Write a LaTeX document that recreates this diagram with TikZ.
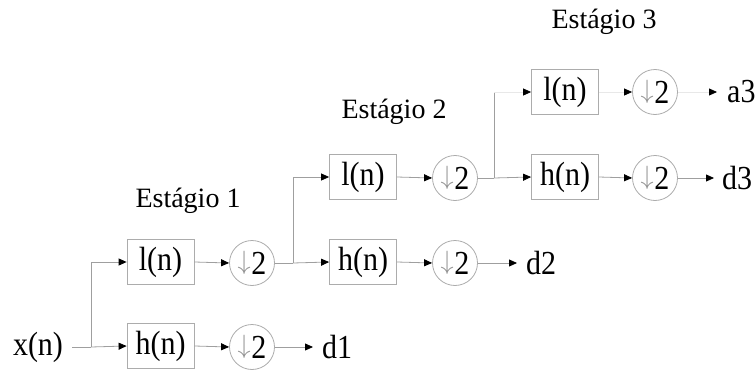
\documentclass[tikz,border=0pt]{standalone}
\usepackage{fontspec}
\setmainfont{Liberation Serif}
\usetikzlibrary{arrows.meta}
\newcommand\stx[1]{\scalebox{1}[1.12]{#1}}
\newcommand\dsym{\stx{{\color{gray!85}\raisebox{0.14em}{\scalebox{1.05}[0.95]{$\downarrow$}}}\kern0.02em 2}}
\begin{document}
\begin{tikzpicture}[x=1pt,y=-1pt,
  ttl/.style={font=\fontsize{28}{33}\selectfont, inner sep=0pt, anchor=base},
  txt/.style={font=\fontsize{30}{36}\selectfont, inner sep=0pt},
  box/.style={draw=gray!65, line width=0.8pt, minimum width=67pt, minimum height=45pt, inner sep=0pt, font=\fontsize{30}{36}\selectfont},
  dn/.style={circle, draw=gray!65, line width=0.8pt, minimum size=45pt, inner sep=0pt, font=\fontsize{30}{36}\selectfont},
  ln/.style={draw=gray!75, line width=0.8pt},
  lnf/.style={draw=gray!18, line width=0.8pt},
  arr/.style={ln, -{Triangle[length=8pt,width=7pt,color=black]}},
  arrf/.style={lnf, -{Triangle[length=8pt,width=7pt,color=black]}}]
\useasboundingbox (0,0) rectangle (756,372);
% stage titles
\node[ttl] (s1) at (188,207) {Estágio 1};
\node[ttl] (s2) at (394,118) {Estágio 2};
\node[ttl] (s3) at (604,28) {Estágio 3};
% input
\node[txt] (xn) at (38,347) {\stx{x(n)}};
\coordinate (j1) at (91,347);
% stage 1
\node[box] (l1) at (160.5,262) {\stx{l(n)}};
\node[box] (h1) at (160.5,346) {\stx{h(n)}};
\node[dn] (c1a) at (252,263) {\dsym};
\node[dn] (c1b) at (252,347) {\dsym};
\node[txt, anchor=west] (d1) at (322,347) {\stx{d1}};
\coordinate (j2) at (293,263);
% stage 2
\node[box] (l2) at (363,177) {\stx{l(n)}};
\node[box] (h2) at (363,262) {\stx{h(n)}};
\node[dn] (c2a) at (455,178) {\dsym};
\node[dn] (c2b) at (455,263) {\dsym};
\node[txt, anchor=west] (d2) at (526,263) {\stx{d2}};
\coordinate (j3) at (494,178);
\coordinate (j3t) at (494,92);
% stage 3
\node[box] (l3) at (565,92) {\stx{l(n)}};
\node[box] (h3) at (565,177) {\stx{h(n)}};
\node[dn] (c3a) at (655,92) {\dsym};
\node[dn] (c3b) at (655,178) {\dsym};
\node[txt, anchor=west] (a3) at (727,92) {\stx{a3}};
\node[txt, anchor=west] (d3) at (722,178) {\stx{d3}};
% connectors stage 1
\draw[ln] ([xshift=9pt]xn.east) -- (j1);
\draw[arr] (j1) |- (l1.west);
\draw[arr] (j1) -- (h1.west);
\draw[arr] (l1.east) -- (c1a.west);
\draw[arr] (h1.east) -- (c1b.west);
\draw[arr, shorten >=9pt] (c1b.east) -- (d1.west);
\draw[ln] (c1a.east) -- (j2);
% stage 2
\draw[arr] (j2) |- (l2.west);
\draw[arr] (j2) -- (h2.west);
\draw[arr] (l2.east) -- (c2a.west);
\draw[arr] (h2.east) -- (c2b.west);
\draw[arr, shorten >=9pt] (c2b.east) -- (d2.west);
\draw[ln] (c2a.east) -- (j3);
% stage 3
\draw[ln] (j3) -- (j3t);
\draw[arrf] (j3t) -- (l3.west);
\draw[arr] (j3) -- (h3.west);
\draw[arrf] (l3.east) -- (c3a.west);
\draw[arr] (h3.east) -- (c3b.west);
\draw[arrf, shorten >=10pt] (c3a.east) -- (a3.west);
\draw[arr, shorten >=8pt] (c3b.east) -- (d3.west);
\end{tikzpicture}
\end{document}
